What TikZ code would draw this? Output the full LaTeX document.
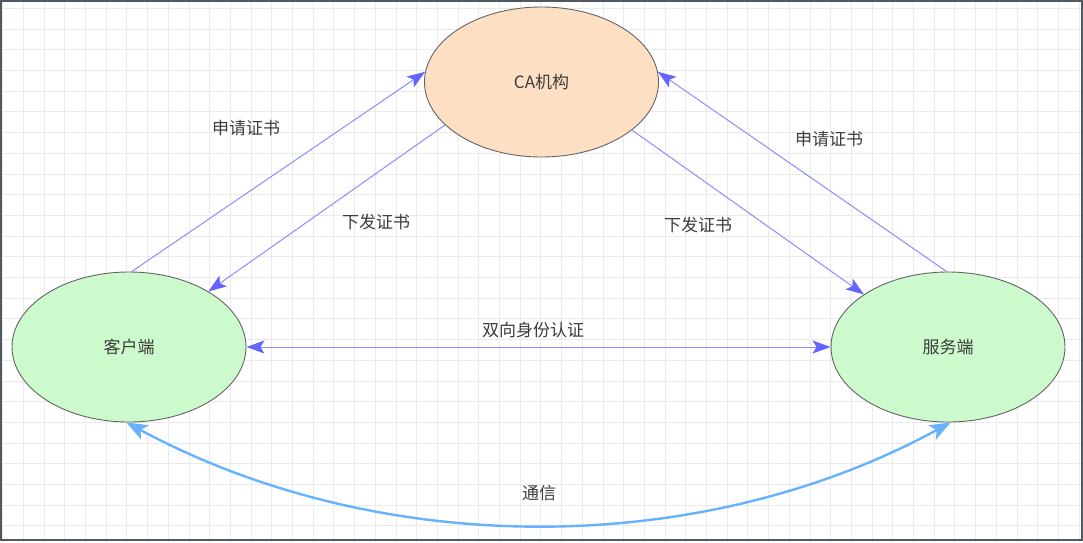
\documentclass[tikz,border=0pt]{standalone}
\usepackage{fontspec}
\newfontfamily\cjk{Noto Sans CJK SC}
\usetikzlibrary{arrows.meta,shapes.geometric}
\definecolor{gridc}{RGB}{232,234,236}
\definecolor{framec}{RGB}{80,88,98}
\definecolor{peach}{RGB}{253,224,195}
\definecolor{mint}{RGB}{204,250,204}
\definecolor{edgec}{RGB}{100,100,100}
\definecolor{arrc}{RGB}{140,140,255}
\definecolor{headc}{RGB}{100,100,255}
\definecolor{commc}{RGB}{102,178,255}
\definecolor{txtc}{RGB}{60,60,60}
\tikzset{
  ell/.style={ellipse, draw=edgec, line width=0.9pt, minimum width=234pt, minimum height=150pt, inner sep=0pt, font=\cjk\fontsize{17}{20}\selectfont, text=txtc},
  lbl/.style={font=\cjk\fontsize{17}{20}\selectfont, text=txtc, inner sep=0pt},
  conn/.style={draw=arrc, line width=1pt, -{Stealth[length=18pt, width=13pt, inset=4pt, fill=headc, color=headc]}},
  both/.style={draw=arrc, line width=1pt, {Stealth[length=18pt, width=13pt, inset=4pt, fill=headc, color=headc]}-{Stealth[length=18pt, width=13pt, inset=4pt, fill=headc, color=headc]}},
  comm/.style={draw=commc, line width=2.4pt, {Stealth[length=21pt, width=16pt, inset=5pt]}-{Stealth[length=21pt, width=16pt, inset=5pt]}}
}
\begin{document}
\begin{tikzpicture}[x=1pt, y=-1pt]
\useasboundingbox (0,0) rectangle (1083,542);
\fill[white] (0,0) rectangle (1083,542);
% grid
\foreach \i in {0,...,52} {
  \draw[gridc, line width=0.8pt] ({2.6+20.7*\i},0) -- ({2.6+20.7*\i},542);
}
\foreach \j in {0,...,26} {
  \draw[gridc, line width=0.8pt] (0,{8.3+20.7*\j}) -- (1083,{8.3+20.7*\j});
}
\draw[framec, line width=2pt] (1,1) rectangle (1082,540);

% nodes
\node[ell, fill=peach] (ca) at (541.5,82) {CA机构};
\node[ell, fill=mint] (client) at (129,347) {客户端};
\node[ell, fill=mint] (server) at (948,347) {服务端};

% connectors
\draw[conn] (client.88) -- (ca.175.4);
\draw[conn] (ca.204) -- (client.35.5);
\draw[conn] (ca.332) -- (server.148);
\draw[conn] (server.91.5) -- (ca.5.5);
\draw[both] (client.east) -- (server.west);
\draw[comm] (client.268) .. controls (380,559) and (700,559) .. (server.272);

% labels
\node[lbl] (l1) at (246,128) {申请证书};
\node[lbl] (l2) at (376,222) {下发证书};
\node[lbl] (l3) at (829,139) {申请证书};
\node[lbl] (l4) at (698,225) {下发证书};
\node[lbl] (l5) at (533,330) {双向身份认证};
\node[lbl] (l6) at (539,493) {通信};
\end{tikzpicture}
\end{document}
